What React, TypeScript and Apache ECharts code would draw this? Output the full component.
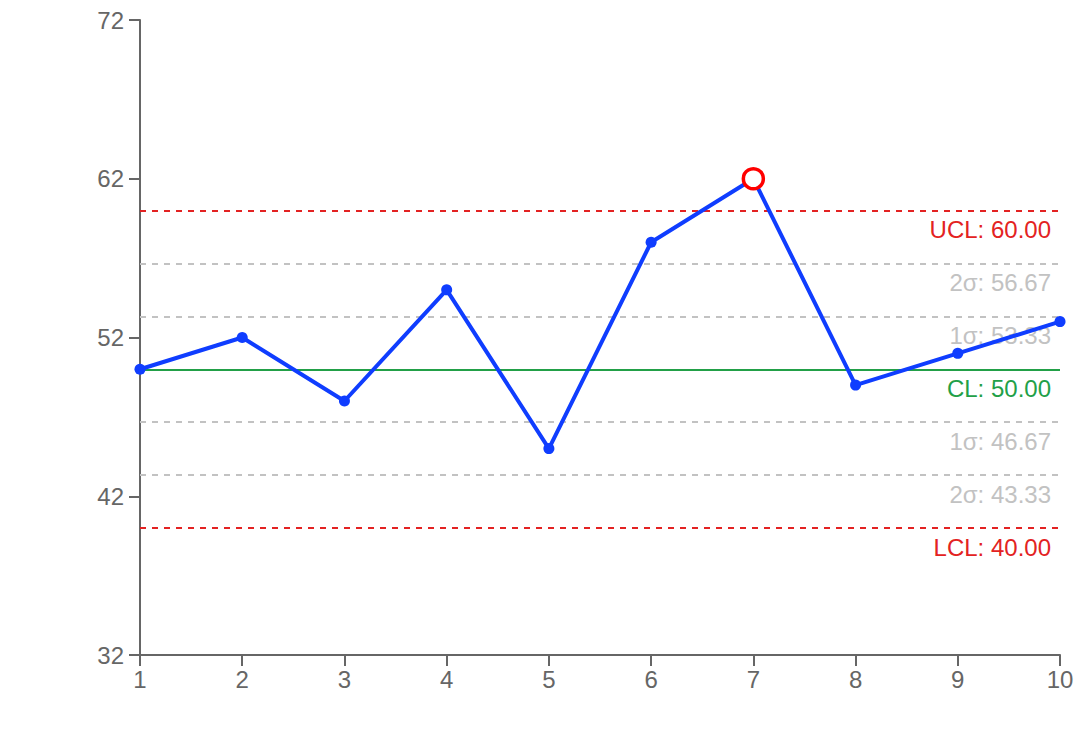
import React, { useEffect, useRef } from "react";
import * as echarts from "echarts";

const categories = ["1", "2", "3", "4", "5", "6", "7", "8", "9", "10"];
const values = [50, 52, 48, 55, 45, 58, 62, 49, 51, 53];
const outOfControl = [6];
const limitNames = ["UCL", "2σ", "1σ", "CL", "1σ", "2σ", "LCL"];
const limitValues = [60, 56.67, 53.33, 50, 46.67, 43.33, 40];
const limitKinds = ["limit", "sigma", "sigma", "center", "sigma", "sigma", "limit"];

const FONT = "'Liberation Sans', Arial, sans-serif";
const BLUE = "#0f3dff";
const RED = "#e32222";
const GREEN = "#22a048";
const GRAY = "#c2c2c2";
const AXIS = "#666666";

export default function App() {
  const ref = useRef<HTMLDivElement>(null);
  useEffect(() => {
    if (!ref.current) return;
    const chart = echarts.init(ref.current, undefined, { renderer: "svg" });
    const colorOf = (k: string) => (k === "limit" ? RED : k === "center" ? GREEN : GRAY);
    const markData = limitValues.map((v, i) => {
      const c = colorOf(limitKinds[i]);
      return {
        yAxis: v,
        lineStyle: {
          color: c,
          width: 2,
          type: limitKinds[i] === "center" ? "solid" : [6, 6],
        },
        label: {
          show: true,
          position: "insideEndBottom",
          formatter: `${limitNames[i]}: ${v.toFixed(2)}`,
          color: c,
          fontSize: 24,
          fontFamily: FONT,
          distance: [9, 7],
        },
      };
    });
    chart.setOption({
      animation: false,
      backgroundColor: "#ffffff",
      grid: { left: 140, right: 22, top: 20, bottom: 81 },
      xAxis: {
        type: "category",
        data: categories,
        boundaryGap: false,
        axisLine: { lineStyle: { color: AXIS, width: 2 } },
        axisTick: { show: true, length: 11, alignWithLabel: true, lineStyle: { color: AXIS, width: 2 } },
        axisLabel: { color: AXIS, fontSize: 24, fontFamily: FONT, margin: 12 },
        splitLine: { show: false },
      },
      yAxis: {
        type: "value",
        min: 32,
        max: 72,
        interval: 10,
        axisLine: { show: true, lineStyle: { color: AXIS, width: 2 } },
        axisTick: { show: true, length: 11, lineStyle: { color: AXIS, width: 2 } },
        axisLabel: { color: AXIS, fontSize: 24, fontFamily: FONT, margin: 16 },
        splitLine: { show: false },
      },
      series: [
        {
          type: "line",
          data: values.map((v, i) =>
            outOfControl.includes(i)
              ? {
                  value: v,
                  symbolSize: 20,
                  itemStyle: { color: "#ffffff", borderColor: "#ff0000", borderWidth: 3.5 },
                }
              : v
          ),
          symbol: "circle",
          symbolSize: 11,
          showAllSymbol: true,
          z: 5,
          lineStyle: { color: BLUE, width: 4 },
          itemStyle: { color: BLUE, borderWidth: 0 },
          markLine: {
            silent: true,
            symbol: ["none", "none"],
            z: 2,
            data: markData,
          },
        },
      ],
    });
    return () => chart.dispose();
  }, []);
  return (
    <div
      ref={ref}
      style={{ position: "fixed", left: 0, top: 0, width: 1082, height: 736, background: "#fff" }}
    />
  );
}
